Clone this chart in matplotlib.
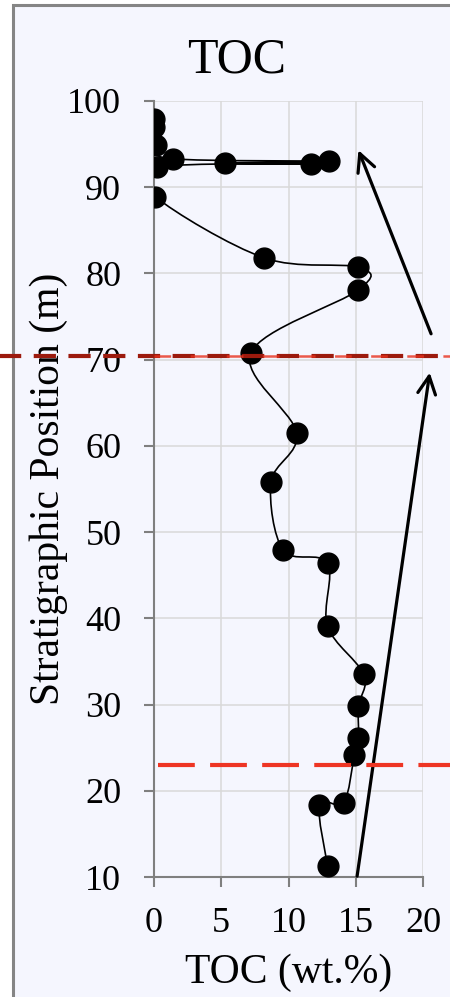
import numpy as np
import matplotlib
matplotlib.use("Agg")
import matplotlib.pyplot as plt
from matplotlib.path import Path
from matplotlib.patches import PathPatch, Rectangle

# TOC (wt.%) against stratigraphic position (m), top of section first
toc = [0.0, 0.0, 0.15, 1.4, 13.0, 5.3, 11.7, 0.2, 0.1, 8.2, 15.2, 15.2, 7.2,
       10.6, 8.7, 9.6, 12.9, 12.9, 15.6, 15.2, 15.2, 14.9, 14.1, 12.3, 12.9]
position = [97.9, 97.0, 94.9, 93.3, 93.0, 92.8, 92.7, 92.3, 88.9, 81.8, 80.7, 78.1, 70.8,
            61.5, 55.8, 47.9, 46.4, 39.1, 33.5, 29.8, 26.1, 24.1, 18.6, 18.4, 11.3]

boundaries = [70.4, 23.0]  # red dashed horizons
x_ticks = [0, 5, 10, 15, 20]
y_ticks = [10, 20, 30, 40, 50, 60, 70, 80, 90, 100]

plt.rcParams['font.family'] = ['Liberation Serif', 'DejaVu Serif']
plt.rcParams['lines.scale_dashes'] = False


def smooth_path(xs, ys):
    # Catmull-Rom style smoothing like an Excel "smoothed line", as bezier curves
    pts = np.column_stack([xs, ys]).astype(float)
    n = len(pts)
    verts = [pts[0]]
    codes = [Path.MOVETO]
    for i in range(n - 1):
        p0 = pts[i - 1] if i > 0 else pts[i]
        p1 = pts[i]
        p2 = pts[i + 1]
        p3 = pts[i + 2] if i + 2 < n else pts[i + 1]
        c1 = p1 + (p2 - p0) / 6.0
        c2 = p2 - (p3 - p1) / 6.0
        verts += [c1, c2, p2]
        codes += [Path.CURVE4] * 3
    return Path(verts, codes)


fig = plt.figure(figsize=(4.5, 9.97), dpi=100, facecolor='white')
fig.patches.append(Rectangle((13 / 450, -0.05), 1.0, 1.05 - 5 / 997,
                             transform=fig.transFigure, facecolor='#f5f6fe',
                             edgecolor='#858585', linewidth=2.2, zorder=-10))

ax = fig.add_axes([154 / 450, 1 - 877 / 997, 269 / 450, 776 / 997])
ax.set_facecolor('none')

ax.add_patch(PathPatch(smooth_path(toc, position), facecolor='none',
                       edgecolor='black', linewidth=1.2, zorder=3))
ax.plot(toc, position, linestyle='none', marker='o', markersize=15,
        color='black', zorder=4)

ax.set_xlim(0, 20)
ax.set_ylim(10, 100)
ax.set_xticks(x_ticks)
ax.set_yticks(y_ticks)
ax.grid(True, color='#d9d9d9', linewidth=1.1)
ax.set_axisbelow(True)
for side in ['top', 'right']:
    ax.spines[side].set_visible(False)
for side in ['left', 'bottom']:
    ax.spines[side].set_color('#7f7f7f')
    ax.spines[side].set_linewidth(1.5)
ax.tick_params(axis='both', direction='out', length=7.5, width=1.5,
               color='#7f7f7f', labelsize=26, labelcolor='black')
ax.tick_params(axis='y', pad=16)
ax.tick_params(axis='x', pad=14)

ax.set_xlabel('TOC (wt.%)', fontsize=30, va='center')
ax.xaxis.set_label_coords(0.5, (877 - 973) / 776)
ax.set_ylabel('Stratigraphic Position (m)', fontsize=30, va='center')
ax.yaxis.set_label_coords((49 - 154) / 269, 0.5)

fig.text(237 / 450, 1 - 60 / 997, 'TOC', fontsize=36, ha='center', va='center')

# horizons
ytr = ax.get_yaxis_transform()
ax.plot([-0.58, 1.12], [boundaries[0]] * 2, transform=ytr, clip_on=False,
        color='#9c1a0d', linewidth=3.0, dashes=(16, 9), zorder=6)
ax.plot([0.0, 1.12], [boundaries[0]] * 2, transform=ytr, clip_on=False,
        color='#e8321e', linewidth=1.8, dashes=(12, 14), dash_capstyle='butt', zorder=7, alpha=0.8)
ax.plot([0.015, 1.12], [boundaries[1]] * 2, transform=ytr, clip_on=False,
        color='#ee3524', linewidth=3.0, dashes=(26.5, 11), zorder=6)

# trend arrows
arrow = dict(arrowstyle='->', color='black', linewidth=2.3, mutation_scale=32,
             shrinkA=0, shrinkB=0)
ax.annotate('', xy=(15.2, 94.3), xytext=(20.6, 73.0), arrowprops=arrow,
            annotation_clip=False)
ax.annotate('', xy=(20.5, 68.5), xytext=(15.1, 10.1), arrowprops=arrow,
            annotation_clip=False)

fig.savefig('out.png', dpi=100, facecolor=fig.get_facecolor())
